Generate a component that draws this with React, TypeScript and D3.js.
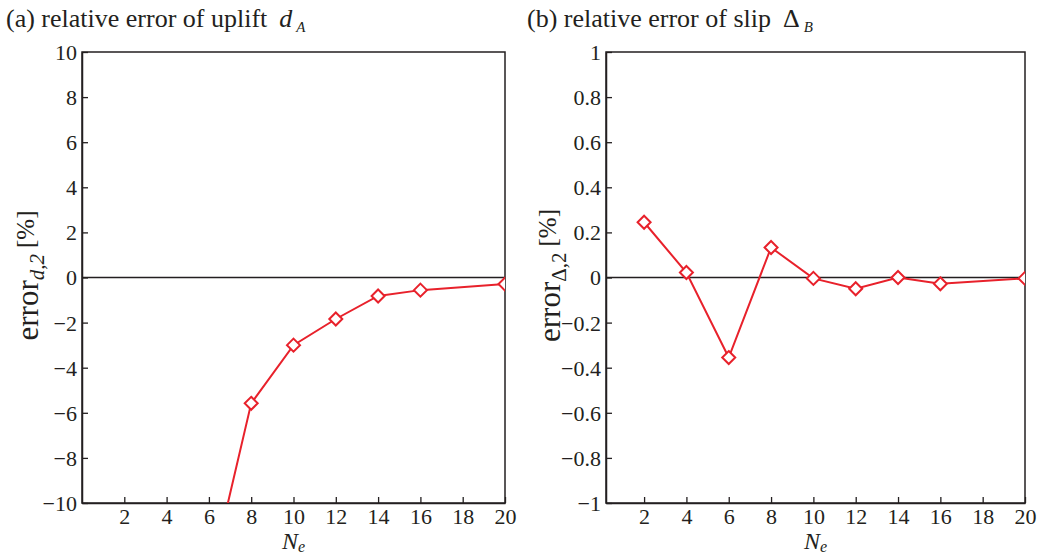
import React, { useEffect, useRef } from "react";
import * as d3 from "d3";

// Ne values and errors
const neTicks = [2, 4, 6, 8, 10, 12, 14, 16, 18, 20];

const upliftNe = [6, 8, 10, 12, 14, 16, 20];
const upliftErr = [-13.6, -5.58, -3.0, -1.84, -0.82, -0.56, -0.29];
const upliftTicks = [-10, -8, -6, -4, -2, 0, 2, 4, 6, 8, 10];

const slipNe = [2, 4, 6, 8, 10, 12, 14, 16, 20];
const slipErr = [0.245, 0.022, -0.355, 0.133, -0.004, -0.05, 0.0, -0.028, -0.004];
const slipTicks = [-1, -0.8, -0.6, -0.4, -0.2, 0, 0.2, 0.4, 0.6, 0.8, 1];

const RED = "#e8212b";
const INK = "#231f20";
const FONT = "Liberation Serif";

function drawPanel(svg, o) {
  const x = d3.scaleLinear().domain([o.xmin, 20]).range([o.left, o.right]);
  const y = d3.scaleLinear().domain(o.domain).range([o.bottom, o.top]);

  const g = svg.append("g");
  const clipId = "clip_" + o.id;
  g.append("clipPath").attr("id", clipId)
    .append("rect")
    .attr("x", o.left).attr("y", o.top)
    .attr("width", o.right - o.left).attr("height", o.bottom - o.top);

  // frame
  g.append("rect")
    .attr("x", o.left).attr("y", o.top)
    .attr("width", o.right - o.left).attr("height", o.bottom - o.top)
    .attr("fill", "none").attr("stroke", INK).attr("stroke-width", 1.5);

  // zero line
  g.append("line")
    .attr("x1", o.left).attr("x2", o.right)
    .attr("y1", y(0)).attr("y2", y(0))
    .attr("stroke", INK).attr("stroke-width", 1.3);

  const yAxis = g.append("g")
    .attr("transform", `translate(${o.left},0)`)
    .call(d3.axisLeft(y).tickValues(o.ticks).tickSizeInner(-6).tickSizeOuter(0)
      .tickPadding(5).tickFormat(d3.format("~g")));
  const xAxis = g.append("g")
    .attr("transform", `translate(0,${o.bottom})`)
    .call(d3.axisBottom(x).tickValues(neTicks).tickSizeInner(-6).tickSizeOuter(0)
      .tickPadding(5));
  [yAxis, xAxis].forEach(a => {
    a.attr("font-family", FONT).attr("font-size", 22);
    a.select(".domain").attr("stroke", INK).attr("stroke-width", 1.5);
    a.selectAll(".tick line").attr("stroke", INK).attr("stroke-width", 1.3);
    a.selectAll(".tick text").attr("fill", INK);
  });
  yAxis.selectAll(".tick text").attr("dy", "0.34em");

  const pts = o.ne.map((n, i) => [n, o.err[i]]);
  const line = d3.line().x(d => x(d[0])).y(d => y(d[1]));
  const plot = g.append("g").attr("clip-path", `url(#${clipId})`);
  plot.append("path")
    .attr("d", line(pts))
    .attr("fill", "none").attr("stroke", RED).attr("stroke-width", 2);
  plot.selectAll(".mk")
    .data(pts.filter(d => d[1] >= o.domain[0]))
    .join("path")
    .attr("class", "mk")
    .attr("transform", d => `translate(${x(d[0])},${y(d[1])})`)
    .attr("d", "M0,-6.5L6.5,0L0,6.5L-6.5,0Z")
    .attr("fill", "white").attr("stroke", RED).attr("stroke-width", 2);

  // title
  const t = svg.append("text")
    .attr("x", o.titleX).attr("y", 27)
    .attr("fill", INK).attr("font-family", FONT).attr("font-size", 26);
  t.append("tspan").text(o.title);
  t.append("tspan").attr("dx", 12).attr("font-style", o.symItalic ? "italic" : "normal")
    .text(o.sym);
  t.append("tspan").attr("dx", 4).attr("dy", 5).attr("font-style", "italic")
    .attr("font-size", 15).text(o.sub);

  // x label
  const xl = svg.append("text")
    .attr("x", (o.left + o.right) / 2).attr("y", 549)
    .attr("text-anchor", "middle")
    .attr("fill", INK).attr("font-family", FONT).attr("font-style", "italic")
    .attr("font-size", 24);
  xl.append("tspan").text("N");
  xl.append("tspan").attr("dy", 3).attr("font-size", 16).text("e");

  // y label
  const yl = svg.append("text")
    .attr("transform", `translate(${o.labelX},${y(0) - 2}) rotate(-90)`)
    .attr("text-anchor", "middle")
    .attr("fill", INK).attr("font-family", FONT).attr("font-size", 31);
  yl.append("tspan").text("error");
  yl.append("tspan").attr("dy", 6).attr("font-size", 21)
    .attr("font-style", o.labelSubItalic ? "italic" : "normal").text(o.labelSub);
  yl.append("tspan").attr("dy", -10).attr("dx", 6).attr("font-size", 25).text("[%]");
}

export default function App() {
  const ref = useRef(null);
  useEffect(() => {
    const svg = d3.select(ref.current);
    svg.selectAll("*").remove();
    drawPanel(svg, {
      id: "a", left: 82, right: 505, top: 52, bottom: 503, xmin: 0,
      domain: [-10, 10], ticks: upliftTicks, ne: upliftNe, err: upliftErr,
      title: "(a) relative error of uplift", sym: "d", symItalic: true, sub: "A",
      titleX: 6, labelX: 38, labelSub: "d,2", labelSubItalic: true,
    });
    drawPanel(svg, {
      id: "b", left: 606, right: 1025, top: 52, bottom: 503, xmin: 0.2,
      domain: [-1, 1], ticks: slipTicks, ne: slipNe, err: slipErr,
      title: "(b) relative error of slip", sym: "Δ", symItalic: false, sub: "B",
      titleX: 527, labelX: 560, labelSub: "Δ,2", labelSubItalic: false,
    });
  }, []);
  return (
    <svg ref={ref} width={1044} height={554}
      style={{ position: "absolute", left: 0, top: 0, background: "white" }} />
  );
}
